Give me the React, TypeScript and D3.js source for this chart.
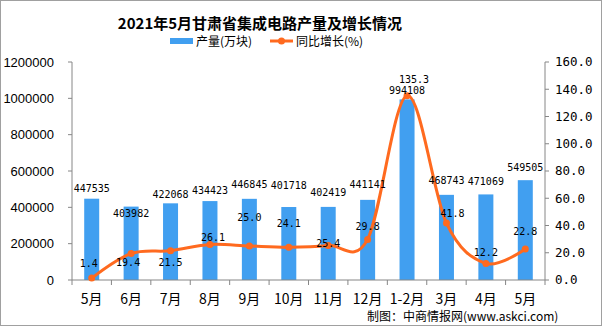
import React from 'react';
import * as d3 from 'd3';

const categories = ['5月', '6月', '7月', '8月', '9月', '10月', '11月', '12月', '1-2月', '3月', '4月', '5月'];
const output = [447535, 403982, 422068, 434423, 446845, 401718, 402419, 441141, 994108, 468743, 471069, 549505];
const growth = [1.4, 19.4, 21.5, 26.1, 25.0, 24.1, 25.4, 29.8, 135.3, 41.8, 12.2, 22.8];
const leftTicks = [0, 200000, 400000, 600000, 800000, 1000000, 1200000];
const rightTicks = [0, 20, 40, 60, 80, 100, 120, 140, 160];
// label nudges (styling)
const barLabelDy = [-10, 7, -9, -11, -14, -22, -14, -15, -9, -14, -13, -13];
const lineLabelDy = [-15, 9, 12, -7, -28, -24, -2, -13, -16, -10, -11, -17];
const lineLabelDx = [-3, -3, 0, 3, 0, 0, 0, 0, 7, 6, 0, 0];

const W = 602, H = 326;
const L = 72, R = 545, T = 62, B = 280;
const BAR = '#419FF0';
const LINE = '#FF6A1F';
const AX = '#868686';
const MONO = '"DejaVu Sans Mono", "Noto Sans CJK SC", monospace';
const CJK = '"Noto Sans CJK SC", "Liberation Sans", sans-serif';

export default function App() {
  const idx = categories.map((_, i) => String(i));
  const x = d3.scaleBand<string>().domain(idx).range([L, R]).padding(0);
  const bw = x.bandwidth();
  const cx = (i: number) => (x(String(i)) as number) + bw / 2;
  const yL = d3.scaleLinear().domain([0, 1200000]).range([B, T]);
  const yR = d3.scaleLinear().domain([0, 160]).range([B, T]);
  const barW = 15;
  const line = d3
    .line<number>()
    .x((_, i) => cx(i))
    .y((d) => yR(d))
    .curve(d3.curveCardinal.tension(0));
  const bounds = d3.range(categories.length + 1).map((i) => L + i * bw);

  return (
    <svg width={W} height={H} style={{ position: 'absolute', left: 0, top: 0, background: '#fff' }}>
      <rect x={0.5} y={0.5} width={W - 1} height={H - 1} fill="#fff" stroke="#a0a0a0" />
      <text x={260} y={29} textAnchor="middle" fontFamily={CJK} fontWeight="bold" fontSize={15} fill="#000">
        2021年5月甘肃省集成电路产量及增长情况
      </text>
      {/* legend */}
      <rect x={170} y={38} width={23} height={6} fill={BAR} />
      <text x={196} y={46} fontFamily={CJK} fontSize={12} fill="#000">产量(万块)</text>
      <line x1={270} x2={293} y1={41} y2={41} stroke={LINE} strokeWidth={3} />
      <circle cx={281.5} cy={41} r={3.5} fill={LINE} />
      <text x={296} y={46} fontFamily={CJK} fontSize={12} fill="#000">同比增长(%)</text>

      {/* bars */}
      {output.map((v, i) => (
        <rect key={'b' + i} x={cx(i) - barW / 2} y={yL(v)} width={barW} height={B - yL(v)} fill={BAR} />
      ))}

      {/* axes */}
      <line x1={L} x2={L} y1={T} y2={B} stroke={AX} />
      {leftTicks.map((t) => (
        <g key={'lt' + t}>
          <line x1={L - 4} x2={L} y1={yL(t)} y2={yL(t)} stroke={AX} />
          <text x={L - 18} y={yL(t)} dy="0.35em" textAnchor="end" fontFamily='"Liberation Sans", Arial, sans-serif' fontSize={13} fill="#000">
            {t}
          </text>
        </g>
      ))}
      <line x1={R} x2={R} y1={T} y2={B} stroke={AX} />
      {rightTicks.map((t) => (
        <g key={'rt' + t}>
          <line x1={R} x2={R + 4} y1={yR(t)} y2={yR(t)} stroke={AX} />
          <text x={R + 10} y={yR(t)} dy="0.35em" textAnchor="start" fontFamily={MONO} fontSize={12.5} fill="#000">
            {t.toFixed(1)}
          </text>
        </g>
      ))}
      <line x1={L} x2={R} y1={B} y2={B} stroke={AX} />
      {bounds.map((b, i) => (
        <line key={'xt' + i} x1={b} x2={b} y1={B} y2={B + 5} stroke={AX} />
      ))}
      {categories.map((c, i) => (
        <text key={'xl' + i} x={cx(i)} y={304} textAnchor="middle" fontFamily={CJK} fontSize={14} fill="#000">
          {c}
        </text>
      ))}

      {/* line */}
      <path d={line(growth) || ''} fill="none" stroke={LINE} strokeWidth={3} />
      {growth.map((v, i) => (
        <circle key={'c' + i} cx={cx(i)} cy={yR(v)} r={3.5} fill={LINE} />
      ))}

      {/* labels */}
      {output.map((v, i) => (
        <text key={'bl' + i} x={cx(i)} y={yL(v) + barLabelDy[i]} dominantBaseline="central" textAnchor="middle" fontFamily={MONO} fontSize={10} fill="#000">
          {v}
        </text>
      ))}
      {growth.map((v, i) => (
        <text key={'ll' + i} x={cx(i) + lineLabelDx[i]} y={yR(v) + lineLabelDy[i]} dominantBaseline="central" textAnchor="middle" fontFamily={MONO} fontSize={10} fill="#000">
          {v.toFixed(1)}
        </text>
      ))}

      <text x={367} y={321} fontFamily={CJK} fontSize={12} fill="#000">制图：中商情报网(www.askci.com)</text>
    </svg>
  );
}
